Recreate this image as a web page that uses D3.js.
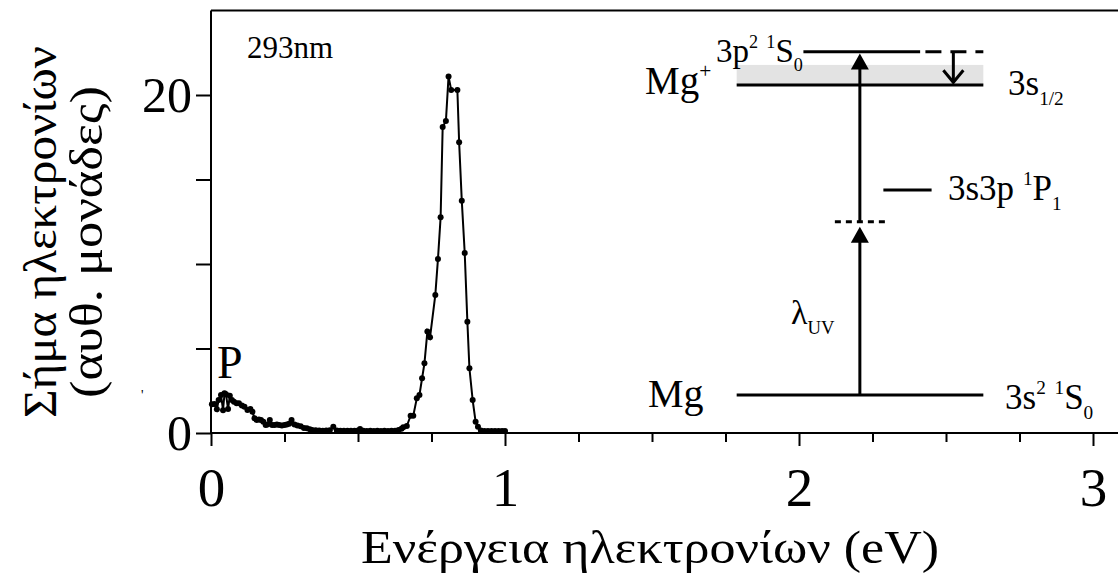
<!DOCTYPE html>
<html>
<head>
<meta charset="utf-8">
<script src="https://cdn.jsdelivr.net/npm/d3@7"></script>
<style>
  html, body { margin: 0; padding: 0; background: #fff; }
  svg { display: block; }
  text { font-family: "Liberation Serif", "Times New Roman", serif; fill: #000; }
</style>
</head>
<body>
<script>
// Photoelectron spectrum at 293 nm: electron energy (eV) vs. signal (arb. units)
const energy = [
  0.003, 0.012, 0.020, 0.026, 0.034, 0.041, 0.046, 0.051, 0.058, 0.064,
  0.071, 0.078, 0.087, 0.095, 0.105, 0.114, 0.124, 0.134, 0.141, 0.148,
  0.155, 0.163, 0.170, 0.178, 0.186, 0.192, 0.200, 0.208, 0.216, 0.224,
  0.232, 0.241, 0.250, 0.258, 0.266, 0.274, 0.284, 0.294, 0.305, 0.316,
  0.326, 0.336, 0.344, 0.356, 0.368, 0.380, 0.392, 0.404, 0.416, 0.428,
  0.440, 0.452, 0.464, 0.476, 0.488, 0.500, 0.507, 0.518, 0.530, 0.542,
  0.554, 0.566, 0.578, 0.590, 0.602, 0.614, 0.626, 0.638, 0.648, 0.654,
  0.666, 0.679, 0.688, 0.700, 0.709, 0.718, 0.726, 0.736, 0.745, 0.763,
  0.772, 0.781, 0.788, 0.799, 0.808, 0.817, 0.838, 0.844, 0.853, 0.863,
  0.872, 0.879, 0.890, 0.900, 0.908, 0.918, 0.930, 0.942, 0.954, 0.966,
  0.978, 0.990, 1.000
];
const signal = [
  1.70, 1.72, 1.40, 1.95, 2.25, 1.35, 2.35, 2.30, 1.42, 2.20,
  1.95, 1.85, 1.76, 1.76, 1.62, 1.56, 1.36, 1.42, 1.26, 0.87,
  0.77, 0.80, 0.77, 0.67, 0.47, 0.51, 0.77, 0.47, 0.47, 0.50,
  0.47, 0.45, 0.47, 0.50, 0.55, 0.77, 0.50, 0.45, 0.40, 0.30,
  0.28, 0.22, 0.18, 0.16, 0.15, 0.14, 0.15, 0.16, 0.37, 0.15,
  0.14, 0.13, 0.14, 0.13, 0.14, 0.15, 0.24, 0.13, 0.12, 0.13,
  0.12, 0.13, 0.12, 0.13, 0.12, 0.13, 0.14, 0.18, 0.25, 0.34,
  0.41, 1.02, 1.02, 2.05, 2.25, 3.24, 4.12, 6.00, 5.66, 8.17,
  10.30, 12.76, 18.10, 18.46, 21.10, 20.30, 20.30, 17.20, 13.75, 10.65,
  6.59, 3.83, 1.95, 0.67, 0.37, 0.15, 0.12, 0.12, 0.12, 0.12,
  0.12, 0.12, 0.12
];

const xTickValues = [0, 1, 2, 3];
const xMinorTicks = [0.25, 0.5, 0.75, 1.25, 1.5, 1.75, 2.25, 2.5, 2.75];
const yTickValues = [0, 5, 10, 15, 20];
const yTickLabels = ["0", "", "", "", "20"];

// Energy-level scheme drawn inside the plot (eV on x, signal units on y)
const levelLines = [
  { name: "Mg 3s2 1S0",   x0: 1.788, x1: 2.627, y: 2.25,  dash: false },
  { name: "Mg+ 3s1/2",    x0: 1.788, x1: 2.627, y: 20.59, dash: false },
  { name: "3p2 1S0",      x0: 2.015, x1: 2.412, y: 22.56, dash: false },
  { name: "3p2 1S0 tail", x0: 2.430, x1: 2.627, y: 22.56, dash: true },
  { name: "3s3p 1P1",     x0: 2.287, x1: 2.451, y: 14.38, dash: false },
  { name: "virtual",      x0: 2.122, x1: 2.293, y: 12.50, dash: true }
];
const continuumBand = { x0: 1.788, x1: 2.627, y0: 20.59, y1: 21.78 };
const pumpX = 2.207;
const pumpArrows = [
  { y0: 2.25,  y1: 12.2 },
  { y0: 12.5,  y1: 22.45 }
];
const decayArrow = { x: 2.525, y0: 22.56, y1: 20.75 };

const W = 1118, H = 573;
const svg = d3.select("body").append("svg").attr("width", W).attr("height", H);

const x = d3.scaleLinear().domain([0, 3.1]).range([211, 211 + 294 * 3.1]);
const y = d3.scaleLinear().domain([0, 25]).range([433, 10.5]);

// frame: left and top edges
const frame = svg.append("g").attr("stroke", "#000").attr("stroke-width", 2);
frame.append("line").attr("x1", x(0)).attr("x2", x(0)).attr("y1", y(0)).attr("y2", y(25));
frame.append("line").attr("x1", x(0)).attr("x2", W).attr("y1", y(25)).attr("y2", y(25));

// x axis
const xAxis = d3.axisBottom(x).tickValues(xTickValues).tickFormat(d3.format("d"))
  .tickSizeInner(13).tickSizeOuter(0).tickPadding(8);
const gx = svg.append("g").attr("transform", `translate(0,${y(0)})`).call(xAxis);
gx.select(".domain").attr("stroke-width", 2).attr("d", `M${x(0)},0H${W}`);
gx.selectAll(".tick line").attr("stroke-width", 2);
gx.selectAll(".tick text").attr("font-size", 55).attr("font-family", "Liberation Serif").attr("dy", "0.95em");
const gxm = svg.append("g").attr("transform", `translate(0,${y(0)})`)
  .call(d3.axisBottom(x).tickValues(xMinorTicks).tickFormat("").tickSizeInner(9).tickSizeOuter(0));
gxm.select(".domain").remove();
gxm.selectAll(".tick line").attr("stroke-width", 2);

// y axis
const yAxis = d3.axisLeft(y).tickValues(yTickValues).tickFormat((d, i) => yTickLabels[i])
  .tickSizeInner(15).tickSizeOuter(0).tickPadding(4);
const gy = svg.append("g").attr("transform", `translate(${x(0)},0)`).call(yAxis);
gy.select(".domain").remove();
gy.selectAll(".tick line").attr("stroke-width", 2);
gy.selectAll(".tick text").attr("font-size", 50).attr("font-family", "Liberation Serif");

// axis titles
svg.append("text").attr("x", 650).attr("y", 563).attr("text-anchor", "middle")
  .attr("font-size", 46).attr("textLength", 578).attr("lengthAdjust", "spacingAndGlyphs")
  .text("Ενέργεια ηλεκτρονίων (eV)");
const yt = svg.append("text").attr("text-anchor", "middle").attr("font-size", 46)
  .attr("transform", "translate(56,0) rotate(-90)");
yt.append("tspan").attr("x", -232).attr("y", 0)
  .attr("textLength", 372).attr("lengthAdjust", "spacingAndGlyphs").text("Σήμα ηλεκτρονίων");
yt.append("tspan").attr("x", -242).attr("y", 46)
  .attr("textLength", 312).attr("lengthAdjust", "spacingAndGlyphs").text("(αυθ. μονάδες)");

// spectrum
const pts = energy.map((e, i) => [e, signal[i]]);
svg.append("path").datum(pts)
  .attr("fill", "none").attr("stroke", "#000").attr("stroke-width", 2)
  .attr("d", d3.line().x(d => x(d[0])).y(d => y(d[1])));
svg.append("g").selectAll("circle").data(pts).join("circle")
  .attr("cx", d => x(d[0])).attr("cy", d => y(d[1])).attr("r", 3).attr("fill", "#000");

// annotations
svg.append("text").attr("x", 247).attr("y", 58).attr("font-size", 31).text("293nm");
svg.append("text").attr("x", 217).attr("y", 378).attr("font-size", 46).text("P");
svg.append("text").attr("x", 141).attr("y", 400).attr("font-size", 14).attr("fill", "#444").text("'");

// energy-level scheme
const scheme = svg.append("g");
scheme.append("rect")
  .attr("x", x(continuumBand.x0)).attr("width", x(continuumBand.x1) - x(continuumBand.x0))
  .attr("y", y(continuumBand.y1)).attr("height", y(continuumBand.y0) - y(continuumBand.y1))
  .attr("fill", "#e3e3e3");
scheme.selectAll("line.level").data(levelLines).join("line").attr("class", "level")
  .attr("x1", d => x(d.x0)).attr("x2", d => x(d.x1))
  .attr("y1", d => y(d.y)).attr("y2", d => y(d.y))
  .attr("stroke", "#000").attr("stroke-width", 3)
  .attr("stroke-dasharray", d => d.dash ? (d.x1 - d.x0 > 0.18 ? "16,9" : "6,5") : null);

pumpArrows.forEach(a => {
  scheme.append("line").attr("x1", x(pumpX)).attr("x2", x(pumpX))
    .attr("y1", y(a.y0)).attr("y2", y(a.y1) + 12)
    .attr("stroke", "#000").attr("stroke-width", 3);
  const tip = y(a.y1);
  scheme.append("path")
    .attr("d", `M${x(pumpX)},${tip}L${x(pumpX) - 9},${tip + 16}L${x(pumpX) + 9},${tip + 16}Z`)
    .attr("fill", "#000");
});
scheme.append("line").attr("x1", x(decayArrow.x)).attr("x2", x(decayArrow.x))
  .attr("y1", y(decayArrow.y0)).attr("y2", y(decayArrow.y1))
  .attr("stroke", "#000").attr("stroke-width", 3);
scheme.append("path")
  .attr("d", `M${x(decayArrow.x) - 10},${y(decayArrow.y1) - 12}L${x(decayArrow.x)},${y(decayArrow.y1)}L${x(decayArrow.x) + 10},${y(decayArrow.y1) - 12}`)
  .attr("fill", "none").attr("stroke", "#000").attr("stroke-width", 3);

// level labels: [text, role] runs; sup/sub use smaller type
function label(px, py, size, runs) {
  const t = scheme.append("text").attr("x", px).attr("y", py).attr("font-size", size);
  let shift = 0;
  runs.forEach(([s, role]) => {
    const ts = t.append("tspan").text(s);
    let target = 0, fs = size;
    if (role === "sup") { target = -0.42 * size; fs = size * 0.55; }
    if (role === "sub") { target = 0.28 * size; fs = size * 0.55; }
    ts.attr("font-size", fs).attr("dy", target - shift);
    shift = target;
  });
}
label(645, 94, 39, [["Mg", ""], ["+", "sup"]]);
label(716, 62, 33, [["3p", ""], ["2", "sup"], [" ", ""], ["1", "sup"], ["S", ""], ["0", "sub"]]);
label(1008, 95, 35, [["3s", ""], ["1/2", "sub"]]);
label(948, 200, 35, [["3s3p ", ""], ["1", "sup"], ["P", ""], ["1", "sub"]]);
label(791, 324, 34, [["λ", ""], ["UV", "sub"]]);
label(648, 407, 40, [["Mg", ""]]);
label(1005, 409, 35, [["3s", ""], ["2", "sup"], [" ", ""], ["1", "sup"], ["S", ""], ["0", "sub"]]);
</script>
</body>
</html>
